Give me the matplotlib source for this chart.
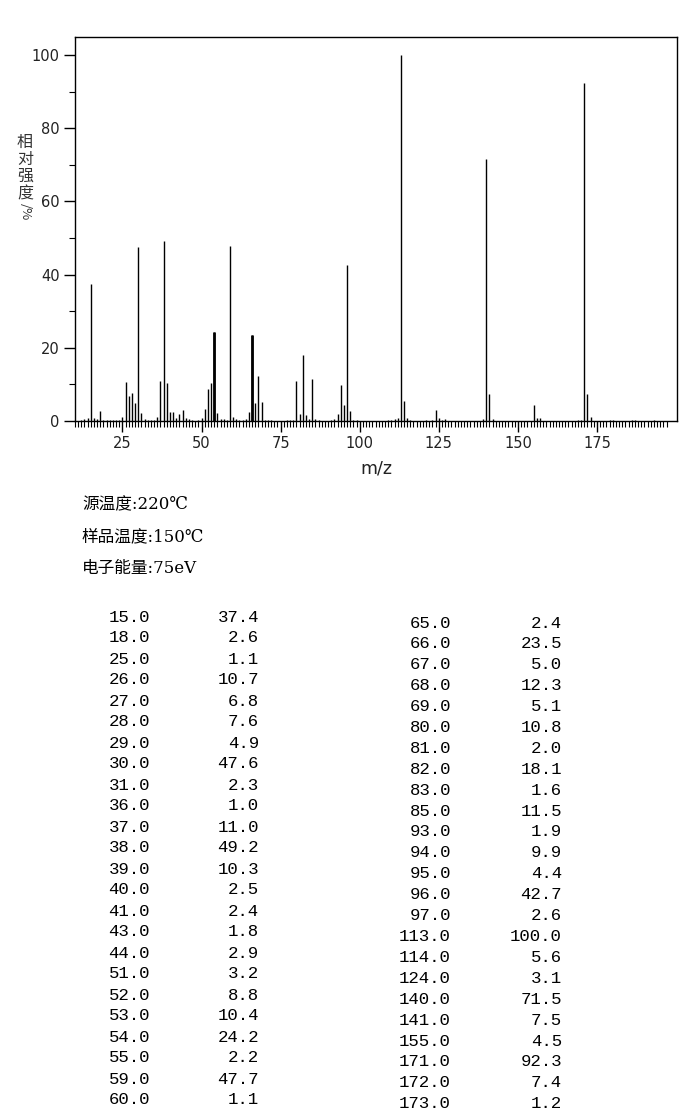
import numpy as np
import matplotlib
matplotlib.use('Agg')
from matplotlib import pyplot as plt
from matplotlib.ticker import MultipleLocator

# 质谱数据 (表中列出的峰)
mz_left = [15, 18, 25, 26, 27, 28, 29, 30, 31, 36, 37, 38, 39, 40, 41, 43, 44, 51, 52, 53, 54, 55, 59, 60]
int_left = [37.4, 2.6, 1.1, 10.7, 6.8, 7.6, 4.9, 47.6, 2.3, 1.0, 11.0, 49.2, 10.3, 2.5, 2.4, 1.8, 2.9, 3.2, 8.8, 10.4, 24.2, 2.2, 47.7, 1.1]
mz_right = [65, 66, 67, 68, 69, 80, 81, 82, 83, 85, 93, 94, 95, 96, 97, 113, 114, 124, 140, 141, 155, 171, 172, 173]
int_right = [2.4, 23.5, 5.0, 12.3, 5.1, 10.8, 2.0, 18.1, 1.6, 11.5, 1.9, 9.9, 4.4, 42.7, 2.6, 100.0, 5.6, 3.1, 71.5, 7.5, 4.5, 92.3, 7.4, 1.2]

# 图上可见但低于1%的小峰 (估计值)
mz_minor = [12, 13, 14, 16, 17, 19, 20, 21, 22, 23, 24, 32, 33, 34, 35, 42, 45, 46, 47, 49, 50, 56, 57, 58,
            61, 62, 63, 64, 70, 71, 72, 77, 78, 79, 84, 86, 87, 91, 92, 98, 99, 109, 110, 111, 112, 115, 116,
            121, 123, 125, 126, 127, 139, 142, 156, 157, 169, 170, 179, 180, 186, 187, 193]
int_minor = [0.4, 0.6, 0.8, 0.7, 0.6, 0.3, 0.3, 0.3, 0.3, 0.3, 0.4, 0.5, 0.3, 0.3, 0.3, 0.7, 0.8, 0.5, 0.3, 0.4, 0.9,
             0.5, 0.5, 0.3, 0.5, 0.4, 0.3, 0.5, 0.3, 0.3, 0.3, 0.3, 0.4, 0.4, 0.5, 0.5, 0.3, 0.4, 0.5, 0.4, 0.3,
             0.3, 0.3, 0.5, 0.7, 0.8, 0.4, 0.4, 0.4, 0.8, 0.4, 0.5, 0.6, 0.6, 0.7, 0.8, 0.3, 0.4, 0.4, 0.4, 0.3,
             0.3, 0.3]

info_lines = ['源温度:220℃', '样品温度:150℃', '电子能量:75eV']

W, H = 687, 1110
fig = plt.figure(figsize=(W / 100, H / 100), dpi=100)
ax = fig.add_axes([75 / W, 1 - 421 / H, (677 - 75) / W, (421 - 37) / H])

mz_all = np.array(mz_left + mz_right + mz_minor)
it_all = np.array(int_left + int_right + int_minor)
ax.vlines(mz_all, 0, it_all, colors='black', linewidth=1.0)
# 54 和 66 的峰在原图中显得更粗
thick = [54, 66]
ax.vlines(thick, 0, [int_left[mz_left.index(54)], int_right[mz_right.index(66)]], colors='black', linewidth=2.0)

ax.set_xlim(10, 200.3)
ax.set_ylim(0, 104.9)
for s in ax.spines.values():
    s.set_linewidth(1.0)

ax.set_xticks([25, 50, 75, 100, 125, 150, 175])
ax.set_xticks(np.arange(10, 198, 1), minor=True)
ax.set_yticks([0, 20, 40, 60, 80, 100])
ax.yaxis.set_minor_locator(MultipleLocator(10))
ax.tick_params(axis='x', which='major', direction='out', length=8, width=1, labelsize=10.5, pad=3,
               labelcolor='#222222')
ax.tick_params(axis='x', which='minor', direction='out', length=4, width=0.8)
ax.tick_params(axis='y', which='major', direction='out', length=8, width=1, labelsize=10.5, pad=3,
               labelcolor='#222222')
ax.tick_params(axis='y', which='minor', direction='out', length=4, width=0.8)
ax.set_xlabel('m/z', fontsize=12.5, labelpad=6, color='#222222')

# 纵轴标题: 竖排汉字
cjk = ['Noto Sans CJK SC', 'DejaVu Sans']
fig.text(25 / W, 1 - 168 / H, '相\n对\n强\n度', fontsize=11.5, family=cjk, ha='center', va='center',
         linespacing=1.0, color='#333333')
fig.text(25 / W, 1 - 212 / H, '/%', fontsize=9.5, family=cjk, ha='center', va='center', rotation=-90,
         color='#333333')

serif = ['DejaVu Serif', 'Noto Sans CJK SC']
for i, line in enumerate(info_lines):
    fig.text(82 / W, 1 - (505 + 31.5 * i) / H, line, fontsize=12, family=serif, ha='left', va='center')

mono = 'Liberation Mono'
for i in range(len(mz_left)):
    y = 1 - (617 + 21 * i) / H
    fig.text(150 / W, y, '%.1f' % mz_left[i], fontsize=12.5, family=mono, ha='right', va='center')
    fig.text(259 / W, y, '%.1f' % int_left[i], fontsize=12.5, family=mono, ha='right', va='center')
for i in range(len(mz_right)):
    y = 1 - (623 + 20.9 * i) / H
    fig.text(451 / W, y, '%.1f' % mz_right[i], fontsize=12.5, family=mono, ha='right', va='center')
    fig.text(562 / W, y, '%.1f' % int_right[i], fontsize=12.5, family=mono, ha='right', va='center')

fig.savefig('out.png', dpi=100)
